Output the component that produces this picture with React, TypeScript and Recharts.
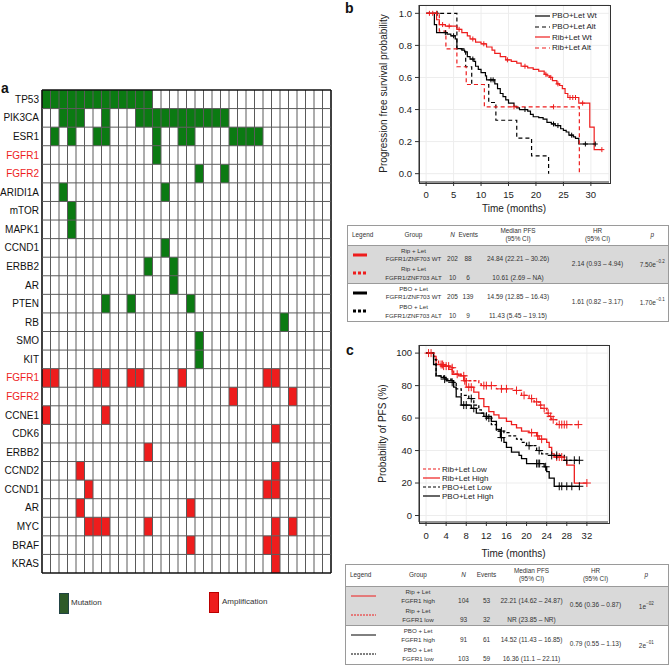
import React from "react";
import {
  ComposedChart,
  LineChart,
  Line,
  Scatter,
  XAxis,
  YAxis,
  Label,
  Legend,
  CartesianGrid,
  ReferenceArea,
  ReferenceLine,
} from "recharts";

const FONT = '"Liberation Sans", Arial, Helvetica, sans-serif';
const RED = "#ee1d1d";
const GREEN = "#0b7a12";
const TEXT = "#222";

// ---- panel a: oncoprint ----
const sampleCount = 34;
const mutationGenes = ["TP53", "PIK3CA", "ESR1", "FGFR1", "FGFR2", "ARIDI1A", "mTOR", "MAPK1", "CCND1", "ERBB2", "AR", "PTEN", "RB", "SMO", "KIT"];
const mutationCols = [
  [0, 1, 2, 3, 4, 5, 6, 7, 8, 9, 10, 11, 12],
  [2, 3, 4, 7, 11, 12, 13, 14, 15, 16, 17, 18, 19, 20, 21],
  [1, 3, 6, 7, 13, 16, 17, 22, 23, 24, 25],
  [13],
  [18, 21],
  [2, 14],
  [3],
  [3],
  [14],
  [12, 15],
  [15],
  [7, 10, 17],
  [28],
  [18],
  [18],
];
const ampGenes = ["FGFR1", "FGFR2", "CCNE1", "CDK6", "ERBB2", "CCND2", "CCND1", "AR", "MYC", "BRAF", "KRAS"];
const ampCols = [
  [0, 1, 6, 7, 10, 11, 16, 26, 27],
  [22, 29],
  [0, 7],
  [27],
  [12],
  [4, 27],
  [5, 26, 27],
  [4, 17],
  [5, 6, 7, 12, 27, 29],
  [17, 26, 27],
  [27],
];
const highlightGenes = ["FGFR1", "FGFR2"];

// ---- panel b: KM by FGFR1/ZNF703 status (time, survival, censored) ----
const pboWtB = [
  [0, 1], [1.5, 0.93], [1.9, 0.88], [3.5, 0.88, 1], [3.8, 0.87], [4.5, 0.86], [5, 0.86, 1], [5.3, 0.84],
  [5.6, 0.78], [6.5, 0.77], [7, 0.76], [7.5, 0.73], [8, 0.715], [8.5, 0.715, 1], [8.7, 0.7], [9, 0.67],
  [9.5, 0.65], [10, 0.63], [10.8, 0.61], [11, 0.585], [11.8, 0.585, 1], [12.2, 0.585, 1], [12.5, 0.56],
  [13, 0.53], [13.5, 0.5], [14, 0.48], [14.5, 0.46], [15, 0.44], [16, 0.42], [16.5, 0.41], [17, 0.4],
  [18, 0.4, 1], [18.5, 0.39], [19, 0.37], [19.5, 0.355], [20.5, 0.35], [21.3, 0.34], [22, 0.32],
  [22.8, 0.31], [23.2, 0.31, 1], [23.5, 0.3], [24, 0.3, 1], [24.5, 0.28], [25, 0.27], [25.5, 0.26],
  [26, 0.24], [26.5, 0.24, 1], [26.8, 0.23], [27.2, 0.22], [27.8, 0.185], [29, 0.185, 1], [30.8, 0.185, 1],
];
const pboAltB = [
  [0, 1], [2, 1, 1], [5.6, 0.778], [7.2, 0.667], [8.3, 0.556], [11.4, 0.444], [12.7, 0.333],
  [16.5, 0.222], [19.2, 0.111], [22.3, 0],
];
const ribWtB = [
  [0, 1], [0.6, 1, 1], [1.2, 1, 1], [1.9, 0.96], [2.4, 0.93], [3, 0.93, 1], [3.5, 0.92], [4.2, 0.92, 1],
  [5.6, 0.9], [6, 0.9, 1], [6.5, 0.88], [7.5, 0.86], [8, 0.84], [8.5, 0.84, 1], [9, 0.82], [10, 0.81],
  [10.5, 0.81, 1], [11, 0.79], [12, 0.77], [12.5, 0.75], [13.5, 0.73], [14.5, 0.71], [14.8, 0.71, 1],
  [15.5, 0.7], [16.5, 0.69], [17.3, 0.67], [18, 0.67, 1], [18.5, 0.66], [19.5, 0.65], [20.5, 0.64],
  [21.5, 0.62], [21.8, 0.62, 1], [22, 0.61], [22.5, 0.6], [22.7, 0.6, 1], [23, 0.58], [23.8, 0.56],
  [24, 0.56, 1], [24.3, 0.55], [24.8, 0.53], [25.3, 0.5], [25.8, 0.475], [26.2, 0.475, 1],
  [26.7, 0.475, 1], [27.2, 0.475, 1], [27.8, 0.44], [28.5, 0.44, 1], [29.8, 0.29], [30.6, 0.15], [32, 0.15, 1],
];
const ribAltB = [
  [0, 1], [1.9, 1, 1], [2.4, 0.889], [3.6, 0.778], [5.6, 0.667], [7.3, 0.556], [10.6, 0.417],
  [16, 0.417, 1], [23.2, 0.417, 1], [27.9, 0],
];

// ---- panel c: KM by FGFR1 expression (time, % PFS, censored) ----
const ribLowC = [
  [0, 100], [0.5, 100, 1], [1, 100, 1], [1.5, 98], [2, 96], [2.5, 93], [3, 93, 1], [3.3, 93, 1], [3.5, 92],
  [4.5, 92, 1], [5, 91], [5.2, 91, 1], [5.5, 87], [6.2, 87, 1], [7, 86], [7.5, 86, 1], [8, 83], [10.5, 81],
  [11, 80], [11.5, 80, 1], [12, 80, 1], [13, 80, 1], [14, 78], [15, 78, 1], [16, 78, 1], [17.5, 77],
  [18, 77, 1], [19, 74], [19.5, 74, 1], [20.5, 72], [21, 72, 1], [21.5, 70], [22, 70, 1], [22.5, 68],
  [22.8, 68, 1], [23, 66], [23.5, 66, 1], [24, 63], [24.3, 63, 1], [24.5, 61], [24.8, 61, 1], [25, 59],
  [25.3, 59, 1], [26, 56], [26.5, 56, 1], [27, 56, 1], [27.5, 56, 1], [28, 56, 1], [30.3, 56, 1],
];
const ribHighC = [
  [0, 100], [1.5, 98], [2, 93], [3, 92], [3.5, 92, 1], [4, 92, 1], [4.5, 90], [5.2, 87], [6.5, 86],
  [7.5, 83], [7.7, 83, 1], [8, 79], [8.5, 79, 1], [9, 79, 1], [9.5, 76], [10.5, 72], [11.5, 67],
  [12.5, 64], [13.5, 62], [14.5, 60], [16, 58], [17, 56], [18, 54], [19, 52], [20.5, 51], [21, 51, 1],
  [22, 49], [22.2, 49, 1], [22.5, 47], [23, 47, 1], [24, 45], [24.5, 42], [25, 38], [25.5, 36],
  [26, 36, 1], [26.5, 36, 1], [27, 36, 1], [27.5, 34], [28, 31], [29.5, 20], [32, 20, 1],
];
const pboLowC = [
  [0, 100], [1.5, 96], [2, 86], [3.5, 84], [3.7, 84, 1], [5, 82], [5.2, 82, 1], [6, 78], [7, 74],
  [8.5, 72], [9, 72, 1], [9.5, 68], [10.5, 65], [11, 63], [12, 60], [12.5, 60, 1], [13, 56], [14, 52],
  [15, 52, 1], [15.5, 51], [16.5, 49], [18, 47], [19, 45], [20, 43], [20.5, 43, 1], [22, 40],
  [22.5, 40, 1], [23, 38], [24.5, 37], [25, 37, 1], [26, 37, 1], [27.5, 34], [28, 34, 1], [29.5, 34, 1],
  [30.5, 34, 1],
];
const pboHighC = [
  [0, 100], [1.5, 93], [2, 86], [3, 85], [4, 83], [5.5, 79], [6, 73], [7, 68], [7.5, 68, 1], [8, 68, 1],
  [9, 66], [9.5, 66, 1], [10, 63], [11.5, 61], [12, 61, 1], [13, 58], [14, 53], [14.8, 48], [15, 48, 1],
  [15.5, 45], [16, 42], [17, 39], [18.5, 37], [19, 35], [20, 32], [22, 32, 1], [22.3, 32, 1],
  [22.6, 32, 1], [23.5, 30], [23.8, 30, 1], [24, 27], [24.5, 23], [25.5, 18], [26.5, 18, 1], [27, 18, 1],
  [28, 18, 1], [29, 18, 1], [30.5, 18, 1],
];

// ---- tables ----
const tableBGroups = ["Rip + Let", "Rip + Let", "PBO + Let", "PBO + Let"];
const tableBSub = ["FGFR1/ZNF703 WT", "FGFR1/ZNF703 ALT", "FGFR1/ZNF703 WT", "FGFR1/ZNF703 ALT"];
const tableBN = [202, 10, 205, 10];
const tableBEvents = [88, 6, 139, 9];
const tableBMedian = ["24.84 (22.21 – 30.26)", "10.61 (2.69 – NA)", "14.59 (12.85 – 16.43)", "11.43 (5.45 – 19.15)"];
const tableBHR = ["2.14 (0.93 – 4.94)", "1.61 (0.82 – 3.17)"];
const tableBP = ["7.50e", "1.70e"];
const tableBPExp = ["−0.2", "−0.1"];

const tableCGroups = ["Rip + Let", "Rip + Let", "PBO + Let", "PBO + Let"];
const tableCSub = ["FGFR1 high", "FGFR1 low", "FGFR1 high", "FGFR1 low"];
const tableCN = [104, 93, 91, 103];
const tableCEvents = [53, 32, 61, 59];
const tableCMedian = ["22.21 (14.62 – 24.87)", "NR (23.85 – NR)", "14.52 (11.43 – 16.85)", "16.36 (11.1 – 22.11)"];
const tableCHR = ["0.56 (0.36 – 0.87)", "0.79 (0.55 – 1.13)"];
const tableCP = ["1e", "2e"];
const tableCPExp = ["−02", "−01"];

type Series = { name: string; color: string; dash?: string; points: number[][] };

const bSeries: Series[] = [
  { name: "PBO+Let Wt", color: "#000", points: pboWtB },
  { name: "PBO+Let Alt", color: "#000", dash: "4 3", points: pboAltB },
  { name: "Rib+Let Wt", color: RED, points: ribWtB },
  { name: "Rib+Let Alt", color: RED, dash: "4 3", points: ribAltB },
];
const cSeries: Series[] = [
  { name: "Rib+Let Low", color: RED, dash: "3 2", points: ribLowC },
  { name: "Rib+Let High", color: RED, points: ribHighC },
  { name: "PBO+Let Low", color: "#000", dash: "3 2", points: pboLowC },
  { name: "PBO+Let High", color: "#000", points: pboHighC },
];

const toRows = (pts: number[][]) => pts.map(([t, s, c]) => ({ t, s, c: c ?? 0 }));

const censorDot = (size: number, color: string) => (props: any) => {
  const { cx, cy, payload, index } = props;
  if (!payload || !payload.c) return <g key={`d${index}`} />;
  return (
    <path
      key={`d${index}`}
      d={`M${cx - size},${cy}H${cx + size}M${cx},${cy - size}V${cy + size}`}
      stroke={color}
      strokeWidth={1}
      fill="none"
    />
  );
};

const kmLegend = (items: Series[], lineW: number, fontSize: number, rowH: number) => () => (
  <div style={{ fontFamily: FONT, fontSize, color: TEXT, whiteSpace: "nowrap" }}>
    {items.map((it) => (
      <div key={it.name} style={{ display: "flex", alignItems: "center", height: rowH }}>
        <svg width={lineW} height={4} style={{ marginRight: 2 }}>
          <line x1={0} y1={2} x2={lineW} y2={2} stroke={it.color} strokeWidth={1.2} strokeDasharray={it.dash} />
        </svg>
        <span>{it.name}</span>
      </div>
    ))}
  </div>
);

const rowGenes = [...mutationGenes, ...ampGenes];
const cells = [
  ...mutationCols.flatMap((cols, r) => cols.map((c) => ({ col: c, row: r, fill: GREEN }))),
  ...ampCols.flatMap((cols, r) => cols.map((c) => ({ col: c, row: r + mutationGenes.length, fill: RED }))),
];

const GeneTick = (props: any) => {
  const { x, y, payload } = props;
  const name = rowGenes[Math.floor(payload.value)];
  return (
    <text x={x} y={y} dy="0.35em" textAnchor="end" fontSize={10} fontFamily={FONT} fill={highlightGenes.includes(name) ? RED : "#111"}>
      {name}
    </text>
  );
};

function Oncoprint() {
  return (
    <ComposedChart width={335} height={500} data={cells} margin={{ top: 10, right: 4, bottom: 7, left: 0 }}>
      <XAxis type="number" dataKey="col" domain={[0, sampleCount]} hide allowDataOverflow />
      <YAxis
        type="number"
        dataKey="row"
        domain={[0, rowGenes.length]}
        reversed
        allowDataOverflow
        ticks={rowGenes.map((_, i) => i + 0.5)}
        interval={0}
        width={42}
        axisLine={false}
        tickLine={false}
        tickSize={2}
        tickMargin={1}
        tick={<GeneTick />}
      />
      {cells.map((d) => (
        <ReferenceArea
          key={`${d.row}-${d.col}`}
          x1={d.col}
          x2={d.col + 1}
          y1={d.row}
          y2={d.row + 1}
          fill={d.fill}
          fillOpacity={1}
          stroke="none"
          ifOverflow="visible"
        />
      ))}
      {Array.from({ length: sampleCount + 1 }, (_, i) => (
        <ReferenceLine
          key={`v${i}`}
          x={i}
          stroke={i === 0 || i === sampleCount ? "#111" : "#5a5a5a"}
          strokeWidth={i === 0 || i === sampleCount ? 1.6 : 1}
          ifOverflow="visible"
        />
      ))}
      {Array.from({ length: rowGenes.length + 1 }, (_, j) => (
        <ReferenceLine
          key={`h${j}`}
          y={j}
          stroke={j === 0 || j === rowGenes.length ? "#111" : "#5a5a5a"}
          strokeWidth={j === 0 || j === rowGenes.length ? 1.6 : 1}
          ifOverflow="visible"
        />
      ))}
      <Scatter dataKey="row" shape={() => <g />} isAnimationActive={false} legendType="none" />
    </ComposedChart>
  );
}

const axisTick = { fontSize: 9.5, fill: TEXT, fontFamily: FONT };
const FRAME = "#333";

const bX = [-1.3, 33.3];
const bY = [-0.052, 1.052];
const cX = [-1.4, 36.2];
const cY = [-4, 105];

// chart geometry (plot box = chart minus margins and axis sizes)
const bChart = { w: 331, h: 215, top: 5, right: 62, yAxisW: 79, xAxisH: 33 };
const cChart = { w: 331, h: 230, top: 15, right: 63, yAxisW: 79, xAxisH: 38 };

const PlotBox = ({ g }: { g: typeof bChart }) => (
  <div
    style={{
      position: "absolute",
      left: g.yAxisW - 0.5,
      top: g.top - 0.5,
      width: g.w - g.right - g.yAxisW,
      height: g.h - g.top - g.xAxisH,
      border: `1px solid ${FRAME}`,
      pointerEvents: "none",
    }}
  />
);

function KmB() {
  const g = bChart;
  return (
    <div style={{ position: "relative", width: g.w, height: g.h }}>
      <LineChart width={g.w} height={g.h} margin={{ top: g.top, right: g.right, bottom: 0, left: 0 }}>
        <CartesianGrid stroke="#ededed" />
        <XAxis
          type="number"
          dataKey="t"
          domain={bX}
          ticks={[0, 5, 10, 15, 20, 25, 30]}
          allowDataOverflow
          height={g.xAxisH}
          tickSize={4}
          tickMargin={5}
          stroke={FRAME}
          axisLine={{ stroke: FRAME, strokeWidth: 1 }}
          tick={axisTick}
        >
          <Label value="Time (months)" position="insideBottom" offset={3} style={{ fontSize: 10, fill: TEXT, fontFamily: FONT }} />
        </XAxis>
        <YAxis
          type="number"
          domain={bY}
          ticks={[0, 0.2, 0.4, 0.6, 0.8, 1]}
          tickFormatter={(v: number) => v.toFixed(1)}
          allowDataOverflow
          width={g.yAxisW}
          tickSize={4}
          tickMargin={3}
          stroke={FRAME}
          axisLine={{ stroke: FRAME, strokeWidth: 1 }}
          tick={axisTick}
        >
          <Label value="Progression free survival probability" angle={-90} position="center" dx={4} style={{ fontSize: 10, fill: TEXT, fontFamily: FONT, textAnchor: "middle" }} />
        </YAxis>
        {bSeries.map((s) => (
          <Line
            key={s.name}
            data={toRows(s.points)}
            dataKey="s"
            type="stepAfter"
            stroke={s.color}
            strokeWidth={1.2}
            strokeDasharray={s.dash}
            dot={censorDot(2.5, s.color)}
            activeDot={false}
            isAnimationActive={false}
          />
        ))}
        <Legend
          layout="vertical"
          align="center"
          verticalAlign="middle"
          content={kmLegend(bSeries, 15, 8, 10.7)}
          wrapperStyle={{ left: 195, top: 10.5, width: 80, height: 44 }}
        />
      </LineChart>
      <PlotBox g={g} />
    </div>
  );
}

function KmC() {
  const g = cChart;
  return (
    <div style={{ position: "relative", width: g.w, height: g.h }}>
      <LineChart width={g.w} height={g.h} margin={{ top: g.top, right: g.right, bottom: 0, left: 0 }}>
        <CartesianGrid stroke="#ededed" />
        <XAxis
          type="number"
          dataKey="t"
          domain={cX}
          ticks={[0, 4, 8, 12, 16, 20, 24, 28, 32]}
          allowDataOverflow
          height={g.xAxisH}
          tickSize={4}
          tickMargin={6}
          stroke={FRAME}
          axisLine={{ stroke: FRAME, strokeWidth: 1 }}
          tick={axisTick}
        >
          <Label value="Time (months)" position="insideBottom" offset={3} style={{ fontSize: 10, fill: TEXT, fontFamily: FONT }} />
        </XAxis>
        <YAxis
          type="number"
          domain={cY}
          ticks={[0, 20, 40, 60, 80, 100]}
          allowDataOverflow
          width={g.yAxisW}
          tickSize={4}
          tickMargin={3}
          stroke={FRAME}
          axisLine={{ stroke: FRAME, strokeWidth: 1 }}
          tick={axisTick}
        >
          <Label value="Probability of PFS (%)" angle={-90} position="center" dx={3} style={{ fontSize: 10, fill: TEXT, fontFamily: FONT, textAnchor: "middle" }} />
        </YAxis>
        {cSeries.map((s) => (
          <Line
            key={s.name}
            data={toRows(s.points)}
            dataKey="s"
            type="stepAfter"
            stroke={s.color}
            strokeWidth={1.3}
            strokeDasharray={s.dash}
            dot={censorDot(4, s.color)}
            activeDot={false}
            isAnimationActive={false}
          />
        ))}
        <Legend
          layout="vertical"
          align="center"
          verticalAlign="middle"
          content={kmLegend(cSeries, 17, 8, 9)}
          wrapperStyle={{ left: 83, top: 134.5, width: 90, height: 36 }}
        />
      </LineChart>
      <PlotBox g={g} />
    </div>
  );
}

type Swatch = { color: string; dash?: string; thick: number; width: number };

function SummaryTable(props: {
  left: number;
  top: number;
  cols: number[];
  headerH: number;
  rowH: number;
  groups: string[];
  subs: string[];
  n: number[];
  events: number[];
  medians: string[];
  hrs: string[];
  pBase: string[];
  pExp: string[];
  swatches: Swatch[];
}) {
  const width = props.cols.reduce((a, b) => a + b, 0);
  const cell: React.CSSProperties = {
    padding: 0,
    textAlign: "center",
    verticalAlign: "bottom",
    paddingBottom: 1,
    whiteSpace: "nowrap",
    overflow: "visible",
  };
  return (
    <table
      style={{
        position: "absolute",
        left: props.left,
        top: props.top,
        width,
        height: props.headerH + 4 * props.rowH,
        tableLayout: "fixed",
        borderCollapse: "collapse",
        border: "1px solid #9a9a9a",
        fontFamily: FONT,
        fontSize: 6.5,
        color: "#333",
        lineHeight: "8.5px",
      }}
    >
      <colgroup>
        {props.cols.map((w, i) => (
          <col key={i} style={{ width: w }} />
        ))}
      </colgroup>
      <tbody>
        <tr style={{ height: props.headerH, fontSize: 6.4 }}>
          <td style={{ ...cell, verticalAlign: "middle", textAlign: "left", paddingLeft: 4 }}>Legend</td>
          <td style={{ ...cell, verticalAlign: "middle" }}>Group</td>
          <td style={{ ...cell, verticalAlign: "middle", fontStyle: "italic" }}>N</td>
          <td style={{ ...cell, verticalAlign: "middle" }}>Events</td>
          <td style={{ ...cell, verticalAlign: "middle" }}>
            Median PFS
            <br />
            (95% CI)
          </td>
          <td style={{ ...cell, verticalAlign: "middle" }}>
            HR
            <br />
            (95% CI)
          </td>
          <td style={{ ...cell, verticalAlign: "middle", fontStyle: "italic" }}>p</td>
        </tr>
        {props.groups.map((g, i) => {
          const sw = props.swatches[i];
          const shaded = i < 2;
          return (
            <tr
              key={i}
              style={{
                height: props.rowH,
                background: shaded ? "#d9d9d9" : "#fff",
                borderTop: i % 2 === 0 ? "1px solid #9a9a9a" : undefined,
              }}
            >
              <td style={{ ...cell, verticalAlign: "middle", textAlign: "left", paddingLeft: 5 }}>
                <svg width={sw.width} height={6} style={{ display: "block" }}>
                  <line x1={0} y1={3} x2={sw.width} y2={3} stroke={sw.color} strokeWidth={sw.thick} strokeDasharray={sw.dash} />
                </svg>
              </td>
              <td style={{ ...cell, fontSize: 6.2 }}>
                {g}
                <br />
                {props.subs[i]}
              </td>
              <td style={cell}>{props.n[i]}</td>
              <td style={cell}>{props.events[i]}</td>
              <td style={cell}>{props.medians[i]}</td>
              {i % 2 === 0 ? (
                <>
                  <td rowSpan={2} style={{ ...cell, verticalAlign: "middle" }}>
                    {props.hrs[i / 2]}
                  </td>
                  <td rowSpan={2} style={{ ...cell, verticalAlign: "middle" }}>
                    {props.pBase[i / 2]}
                    <sup style={{ fontSize: 4.5, verticalAlign: "4px" }}>{props.pExp[i / 2]}</sup>
                  </td>
                </>
              ) : null}
            </tr>
          );
        })}
      </tbody>
    </table>
  );
}

const panelLabel = (text: string, left: number, top: number) => (
  <div style={{ position: "absolute", left, top, fontFamily: FONT, fontWeight: "bold", fontSize: 14, lineHeight: "14px", color: "#111" }}>
    {text}
  </div>
);

export default function App() {
  return (
    <div style={{ position: "absolute", left: 0, top: 0, width: 671, height: 666, background: "#fff", overflow: "hidden" }}>
      {panelLabel("a", 1, 81)}
      {panelLabel("b", 345, 1)}
      {panelLabel("c", 346, 343)}
      <div style={{ position: "absolute", left: 0, top: 80 }}>
        <Oncoprint />
      </div>
      <div style={{ position: "absolute", left: 59, top: 593, width: 8, height: 19, background: "#2e5a28", border: "1px solid #244" }} />
      <div style={{ position: "absolute", left: 71, top: 598, fontFamily: FONT, fontSize: 8, color: "#333" }}>Mutation</div>
      <div style={{ position: "absolute", left: 209, top: 592, width: 8, height: 19, background: RED, border: "1px solid #b00" }} />
      <div style={{ position: "absolute", left: 222, top: 597, fontFamily: FONT, fontSize: 8, color: "#333" }}>Amplification</div>

      <div style={{ position: "absolute", left: 340, top: 0 }}>
        <KmB />
      </div>
      <SummaryTable
        left={347}
        top={225}
        cols={[33, 66, 12, 19, 81, 78, 32]}
        headerH={20}
        rowH={19}
        groups={tableBGroups}
        subs={tableBSub}
        n={tableBN}
        events={tableBEvents}
        medians={tableBMedian}
        hrs={tableBHR}
        pBase={tableBP}
        pExp={tableBPExp}
        swatches={[
          { color: RED, thick: 3, width: 14 },
          { color: RED, thick: 3, width: 14, dash: "3 2" },
          { color: "#000", thick: 3, width: 14 },
          { color: "#000", thick: 3, width: 14, dash: "3 2" },
        ]}
      />
      <div style={{ position: "absolute", left: 340, top: 330 }}>
        <KmC />
      </div>
      <SummaryTable
        left={345}
        top={564}
        cols={[40, 65, 26, 20, 70, 58, 44]}
        headerH={22}
        rowH={19.5}
        groups={tableCGroups}
        subs={tableCSub}
        n={tableCN}
        events={tableCEvents}
        medians={tableCMedian}
        hrs={tableCHR}
        pBase={tableCP}
        pExp={tableCPExp}
        swatches={[
          { color: RED, thick: 1, width: 25 },
          { color: RED, thick: 1, width: 25, dash: "2 1" },
          { color: "#000", thick: 1, width: 25 },
          { color: "#000", thick: 1, width: 25, dash: "2 1" },
        ]}
      />
    </div>
  );
}
